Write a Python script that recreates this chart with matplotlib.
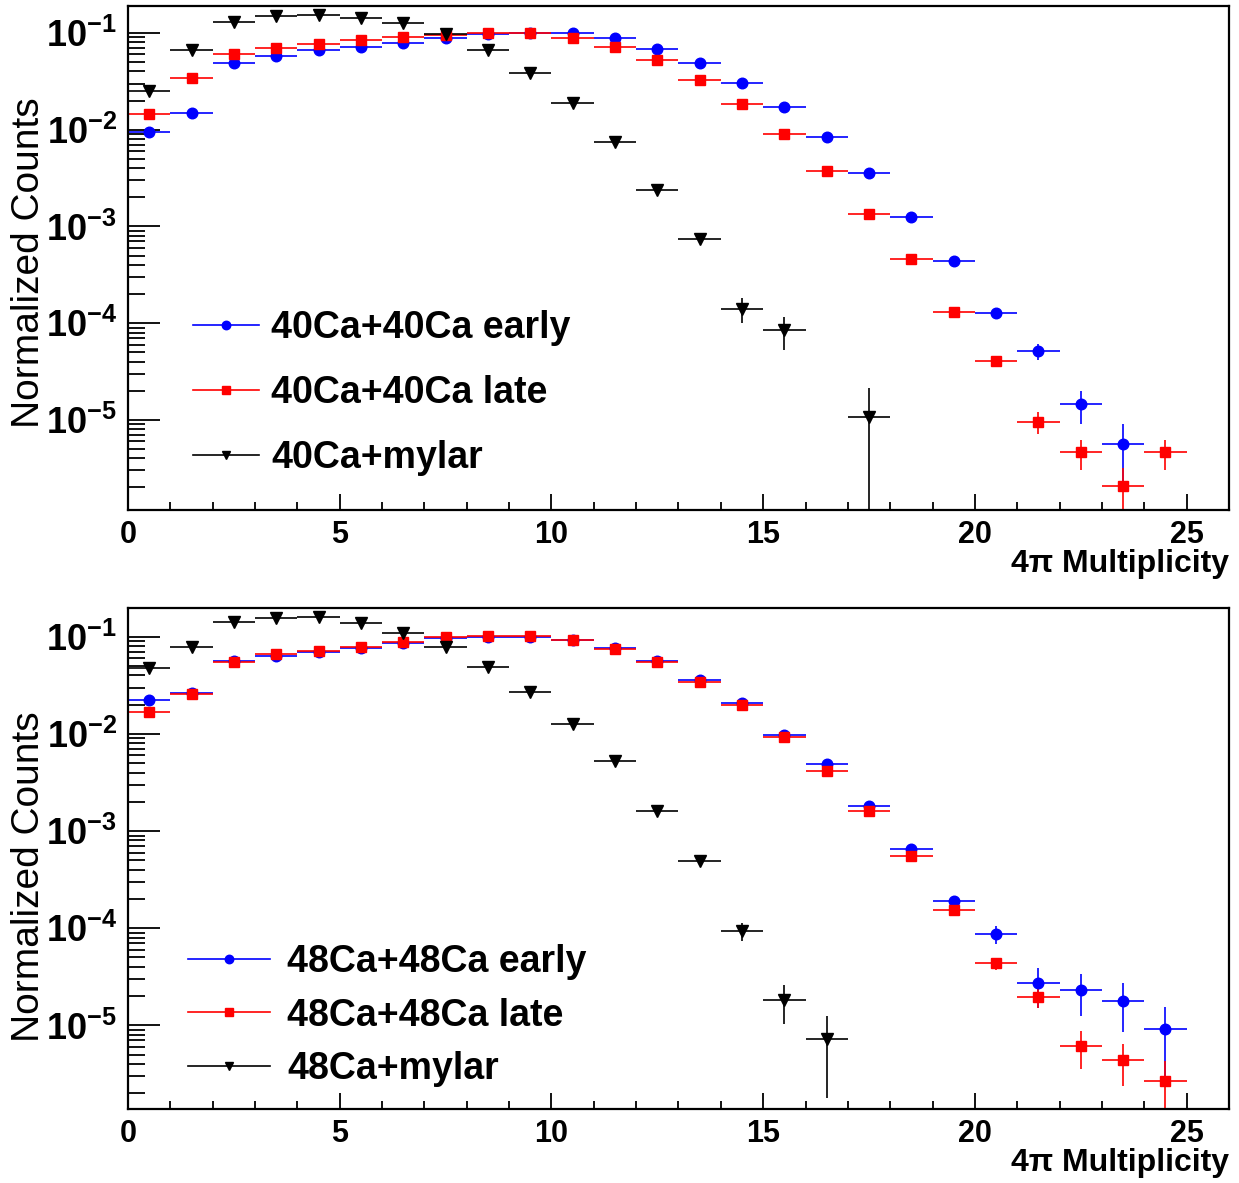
import numpy as np
import matplotlib
matplotlib.use("Agg")
import matplotlib.pyplot as plt
from matplotlib.lines import Line2D
from matplotlib.ticker import FixedLocator, LogLocator, NullFormatter

plt.rcParams['font.family'] = ['Liberation Sans', 'DejaVu Sans']
plt.rcParams['mathtext.fontset'] = 'custom'
plt.rcParams['mathtext.rm'] = 'Liberation Sans'
plt.rcParams['mathtext.bf'] = 'Liberation Sans:bold'

nan = np.nan
bins = np.arange(0.5, 25.0, 1.0)

# ---------- top panel: 40Ca ----------
ca40_early = [0.0094, 0.0149, 0.0487, 0.0574, 0.066, 0.0718, 0.0788, 0.0896, 0.097, 0.099,
              0.1, 0.089, 0.069, 0.049, 0.0307, 0.0171, 0.00837, 0.00361, 0.00126, 4.38e-4,
              1.26e-4, 5.15e-5, 1.45e-5, 5.6e-6, nan]
ca40_early_err = [2e-4, 3e-4, 6e-4, 6e-4, 7e-4, 7e-4, 8e-4, 9e-4, 9e-4, 9e-4,
                  9e-4, 9e-4, 8e-4, 7e-4, 5e-4, 3e-4, 2e-4, 1e-4, 5e-5, 2.5e-5,
                  1.5e-5, 1e-5, 5.5e-6, 3.5e-6, nan]
ca40_late = [0.0145, 0.034, 0.0612, 0.070, 0.0764, 0.084, 0.091, 0.096, 0.1, 0.1,
             0.0896, 0.072, 0.0523, 0.033, 0.0183, 0.00897, 0.00375, 0.00136, 4.56e-4, 1.31e-4,
             4.06e-5, 9.57e-6, 4.62e-6, 2.07e-6, 4.62e-6]
ca40_late_err = [2e-4, 3e-4, 5e-4, 5e-4, 5e-4, 6e-4, 6e-4, 6e-4, 6e-4, 6e-4,
                 6e-4, 5e-4, 4e-4, 3e-4, 2e-4, 1.2e-4, 7e-5, 4e-5, 2e-5, 1e-5,
                 4e-6, 2.4e-6, 1.6e-6, 1.1e-6, 1.6e-6]
ca40_mylar = [0.0252, 0.0673, 0.129, 0.149, 0.153, 0.144, 0.127, 0.097, 0.066, 0.039,
              0.0187, 0.00748, 0.00237, 7.5e-4, 1.4e-4, 8.5e-5, nan, 1.07e-5, nan, nan,
              nan, nan, nan, nan, nan]
ca40_mylar_err = [5e-4, 8e-4, 1.2e-3, 1.2e-3, 1.2e-3, 1.2e-3, 1.1e-3, 1e-3, 8e-4, 6e-4,
                  4e-4, 2.5e-4, 1.4e-4, 7e-5, 4e-5, 3.2e-5, nan, 1.05e-5, nan, nan,
                  nan, nan, nan, nan, nan]

# ---------- bottom panel: 48Ca ----------
ca48_early = [0.0223, 0.0265, 0.056, 0.064, 0.070, 0.077, 0.087, 0.096, 0.1, 0.1,
              0.092, 0.076, 0.056, 0.0359, 0.0206, 0.00975, 0.00486, 0.00181, 6.55e-4, 1.9e-4,
              8.73e-5, 2.72e-5, 2.32e-5, 1.8e-5, 9.1e-6]
ca48_early_err = [4e-4, 4e-4, 6e-4, 6e-4, 7e-4, 7e-4, 8e-4, 8e-4, 8e-4, 8e-4,
                  8e-4, 7e-4, 6e-4, 5e-4, 4e-4, 3e-4, 2e-4, 1e-4, 5e-5, 2.5e-5,
                  1.9e-5, 1.2e-5, 1.07e-5, 9.5e-6, 6.5e-6]
ca48_late = [0.0168, 0.026, 0.055, 0.0659, 0.0718, 0.0783, 0.0889, 0.0986, 0.1016, 0.1016,
             0.0925, 0.074, 0.055, 0.0342, 0.0198, 0.00935, 0.00419, 0.00161, 5.58e-4, 1.54e-4,
             4.36e-5, 1.95e-5, 6.2e-6, 4.41e-6, 2.67e-6]
ca48_late_err = [2e-4, 3e-4, 4e-4, 4e-4, 4e-4, 5e-4, 5e-4, 5e-4, 5e-4, 5e-4,
                 5e-4, 4e-4, 4e-4, 3e-4, 2e-4, 1.3e-4, 8e-5, 5e-5, 2.5e-5, 1.2e-5,
                 6e-6, 4.5e-6, 2.6e-6, 2.05e-6, 1.6e-6]
ca48_mylar = [0.048, 0.0789, 0.1415, 0.157, 0.16, 0.139, 0.11, 0.079, 0.049, 0.0268,
              0.0126, 0.0052, 0.00161, 4.95e-4, 9.4e-5, 1.83e-5, 7.2e-6, nan, nan, nan,
              nan, nan, nan, nan, nan]
ca48_mylar_err = [8e-4, 1e-3, 1.4e-3, 1.5e-3, 1.5e-3, 1.4e-3, 1.2e-3, 1e-3, 8e-4, 6e-4,
                  4e-4, 2.5e-4, 1.2e-4, 5e-5, 2e-5, 8e-6, 5.4e-6, nan, nan, nan,
                  nan, nan, nan, nan, nan]

top_labels = ["40Ca+40Ca early", "40Ca+40Ca late", "40Ca+mylar"]
bot_labels = ["48Ca+48Ca early", "48Ca+48Ca late", "48Ca+mylar"]
ytick_vals = [1e-5, 1e-4, 1e-3, 1e-2, 1e-1]
ytick_text = [r'$\mathbf{10^{-5}}$', r'$\mathbf{10^{-4}}$', r'$\mathbf{10^{-3}}$',
              r'$\mathbf{10^{-2}}$', r'$\mathbf{10^{-1}}$']
xtick_vals = [0, 5, 10, 15, 20, 25]

styles = [dict(color='blue', marker='o', ms=7.6),
          dict(color='red', marker='s', ms=7.6),
          dict(color='black', marker='v', ms=8.0)]

fig = plt.figure(figsize=(12.39, 11.83), dpi=100)
ax_top = fig.add_axes([0.1033, 0.5689, 0.8886, 0.4260])
ax_bot = fig.add_axes([0.1033, 0.0623, 0.8886, 0.4235])


def draw(ax, series, labels, ylim, leg_xy, handlelen, textpad, lspace, ylab_y):
    for (vals, errs), st in zip(series, styles):
        ax.errorbar(bins, vals, yerr=errs, xerr=0.5, fmt=st['marker'], color=st['color'],
                    ms=st['ms'], mec=st['color'], mfc=st['color'], elinewidth=1.2,
                    capsize=0, linestyle='none')
    ax.set_yscale('log')
    ax.set_xlim(0, 26)
    ax.set_ylim(*ylim)
    ax.yaxis.set_major_locator(FixedLocator(ytick_vals))
    ax.set_yticklabels(ytick_text)
    ax.yaxis.set_minor_locator(LogLocator(base=10, subs=np.arange(2, 10), numticks=20))
    ax.yaxis.set_minor_formatter(NullFormatter())
    ax.set_xticks(xtick_vals)
    ax.set_xticklabels([str(v) for v in xtick_vals], fontweight='bold')
    ax.set_xticks(np.arange(0, 26, 1), minor=True)
    ax.tick_params(axis='y', which='major', direction='in', length=23, width=1.3,
                   labelsize=26, pad=8)
    ax.tick_params(axis='y', which='minor', direction='in', length=12, width=1.3)
    ax.tick_params(axis='x', which='major', direction='in', length=11.5, width=1.3,
                   labelsize=22, pad=7)
    ax.tick_params(axis='x', which='minor', direction='in', length=5.8, width=1.3)
    for sp in ax.spines.values():
        sp.set_linewidth(1.6)
    ax.set_xlabel('4\u03c0 Multiplicity', fontsize=23, fontweight='bold', ha='right')
    ax.xaxis.set_label_coords(1.0, -0.078)
    ax.set_ylabel('Normalized Counts', fontsize=28)
    ax.yaxis.set_label_coords(-0.074, ylab_y)
    handles = [Line2D([], [], color=st['color'], marker=st['marker'], ms=st['ms'] * 0.8,
                      lw=1.2) for st in styles]
    ax.legend(handles, labels, loc='center left', bbox_to_anchor=leg_xy, frameon=False,
              prop={'size': 27, 'weight': 'bold'}, handlelength=handlelen,
              handletextpad=textpad, labelspacing=lspace, borderpad=0, borderaxespad=0)


draw(ax_top,
     [(ca40_early, ca40_early_err), (ca40_late, ca40_late_err), (ca40_mylar, ca40_mylar_err)],
     top_labels, (1.17e-6, 0.19), (0.059, 0.232), 1.75, 0.34, 0.78, 0.49)
draw(ax_bot,
     [(ca48_early, ca48_early_err), (ca48_late, ca48_late_err), (ca48_mylar, ca48_mylar_err)],
     bot_labels, (1.37e-6, 0.196), (0.0545, 0.187), 2.2, 0.45, 0.46, 0.465)

fig.savefig('out.png', dpi=100)
